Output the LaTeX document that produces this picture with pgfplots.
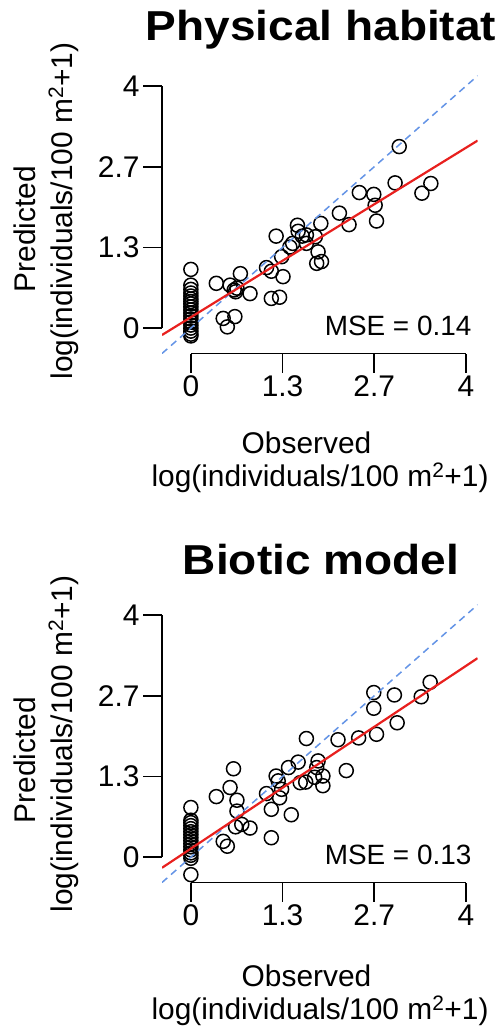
\documentclass[border=0pt]{standalone}
\usepackage{fontspec}
\setmainfont{Liberation Sans}
\usepackage{graphicx}
\usepackage{pgfplots}
\pgfplotsset{compat=1.18}

\definecolor{fitred}{HTML}{E8201E}
\definecolor{oneblue}{RGB}{100,148,230}
\newcommand\lbl{\fontsize{30}{36}\selectfont}
\newcommand\ttl{\fontsize{42}{50}\selectfont\bfseries}

% R-like panel: axes detached from the plot region, ticks outside
\pgfplotsset{rpanel/.style={
    scale only axis, width=315.6bp, height=277.7bp,
    anchor=south west,
    xmin=-0.42, xmax=4.17, ymin=-0.42, ymax=4.17,
    axis x line*=bottom, axis y line*=left,
    axis line style={draw=none},
    xtick={0,1.3333,2.6667,4}, xticklabels={0,1.3,2.7,4},
    ytick={0,1.3333,2.6667,4}, yticklabels={0,1.3,2.7,4},
    tick align=outside, major tick length=19bp,
    tick style={black, line width=1.5bp},
    ticklabel style={font=\lbl},
    clip mode=individual,
}}
\pgfplotsset{pts/.style={only marks, mark=o, mark size=7bp,
    mark options={black, line width=1.5bp}}}

\begin{document}
\begin{tikzpicture}
\useasboundingbox (0,0) rectangle (504bp,-1029bp);

% ---------------- Physical habitat ----------------
\begin{axis}[rpanel, at={(162bp,-353.5bp)}]
\addplot[pts] coordinates {
 (0,0.97) (0,0.71) (0,0.64) (0,0.58) (0,0.53) (0,0.48) (0,0.44) (0,0.40)
 (0,0.35) (0,0.30) (0,0.25) (0,0.20) (0,0.15) (0,0.10) (0,0.05) (0,0.00)
 (0,-0.05) (0,-0.10) (0,-0.13)
 (0.37,0.74) (0.57,0.71) (0.65,0.60) (0.67,0.66) (0.63,0.63) (0.72,0.90)
 (0.86,0.57) (0.47,0.16) (0.64,0.19) (0.53,0.02)
 (1.10,1.00) (1.17,0.94) (1.24,1.52) (1.34,0.85) (1.17,0.49) (1.29,0.51)
 (1.32,1.18) (1.44,1.34) (1.48,1.40) (1.55,1.70) (1.56,1.60) (1.62,1.52)
 (1.68,1.54) (1.68,1.40) (1.81,1.51) (1.89,1.73) (1.85,1.26) (1.83,1.07)
 (1.90,1.10) (2.16,1.90) (2.30,1.71) (2.45,2.24) (2.66,2.21) (2.68,2.03)
 (2.70,1.77) (2.97,2.40) (3.03,3.00) (3.36,2.23) (3.49,2.39)
};
\addplot[oneblue, line width=1.5bp, dash pattern=on 7bp off 5bp]
  coordinates {(-0.42,-0.42) (4.17,4.17)};
\addplot[fitred, line width=2.2bp] coordinates {(-0.42,-0.114) (4.17,3.099)};
\draw[line width=1.5bp] (axis cs:0,-0.42) -- (axis cs:4,-0.42);
\draw[line width=1.5bp] (axis cs:-0.42,0) -- (axis cs:-0.42,4);
\node[anchor=base east, font=\fontsize{28}{34}\selectfont] at (axis cs:4.13,-0.13) {MSE = 0.14};
\end{axis}
\node[anchor=base, font=\ttl] at (321bp,-40.7bp) {\scalebox{1.1}[1]{Physical habitat}};
\node[anchor=base, rotate=90, font=\lbl] at (35bp,-229bp) {Predicted};
\node[anchor=base, rotate=90, font=\lbl] at (72bp,-211bp) {log(individuals/100 m\textsuperscript{2}+1)};
\node[anchor=base, font=\lbl] at (306.5bp,-453bp) {Observed};
\node[anchor=base, font=\lbl] at (320bp,-486bp) {log(individuals/100 m\textsuperscript{2}+1)};

% ---------------- Biotic model ----------------
\begin{axis}[rpanel, at={(162bp,-882.5bp)}]
\addplot[pts] coordinates {
 (0,0.82) (0,0.61) (0,0.57) (0,0.52) (0,0.47) (0,0.42) (0,0.37) (0,0.32)
 (0,0.27) (0,0.22) (0,0.17) (0,0.12) (0,0.07) (0,0.03) (0,-0.02) (0,-0.29)
 (0.37,1.00) (0.57,1.15) (0.62,1.46) (0.67,0.94) (0.67,0.76) (0.65,0.50)
 (0.74,0.54) (0.86,0.48) (0.47,0.26) (0.53,0.18)
 (1.10,1.05) (1.17,0.79) (1.17,0.32) (1.24,1.34) (1.27,1.26) (1.32,1.12)
 (1.29,0.98) (1.46,0.70) (1.42,1.48) (1.56,1.57) (1.59,1.23) (1.67,1.24)
 (1.68,1.96) (1.80,1.32) (1.85,1.59) (1.83,1.48) (1.92,1.34) (1.92,1.18)
 (2.14,1.94) (2.26,1.43) (2.44,1.97) (2.66,2.72) (2.66,2.46) (2.70,2.03)
 (2.96,2.68) (3.00,2.22) (3.35,2.65) (3.48,2.89)
};
\addplot[oneblue, line width=1.5bp, dash pattern=on 7bp off 5bp]
  coordinates {(-0.42,-0.42) (4.17,4.17)};
\addplot[fitred, line width=2.2bp] coordinates {(-0.42,-0.177) (4.17,3.288)};
\draw[line width=1.5bp] (axis cs:0,-0.42) -- (axis cs:4,-0.42);
\draw[line width=1.5bp] (axis cs:-0.42,0) -- (axis cs:-0.42,4);
\node[anchor=base east, font=\fontsize{28}{34}\selectfont] at (axis cs:4.13,-0.13) {MSE = 0.13};
\end{axis}
\node[anchor=base, font=\ttl] at (321bp,-574.7bp) {\scalebox{1.1}[1]{Biotic model}};
\node[anchor=base, rotate=90, font=\lbl] at (35bp,-760bp) {Predicted};
\node[anchor=base, rotate=90, font=\lbl] at (72bp,-744bp) {log(individuals/100 m\textsuperscript{2}+1)};
\node[anchor=base, font=\lbl] at (306.5bp,-986bp) {Observed};
\node[anchor=base, font=\lbl] at (320bp,-1019bp) {log(individuals/100 m\textsuperscript{2}+1)};
\end{tikzpicture}
\end{document}
